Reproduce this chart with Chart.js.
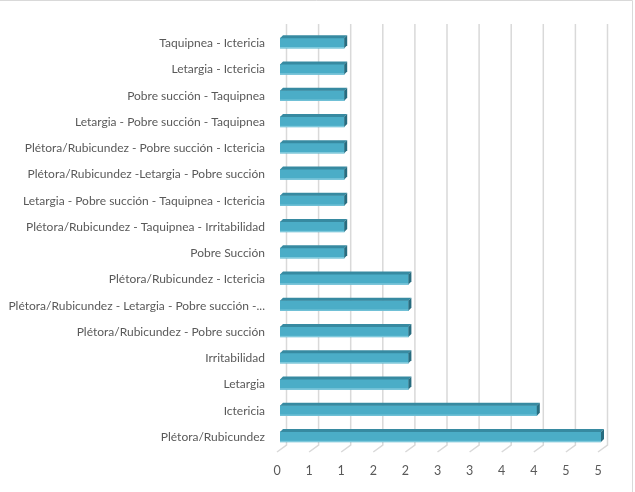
<!DOCTYPE html>
<html>
<head>
<meta charset="utf-8">
<script src="https://cdn.jsdelivr.net/npm/chart.js@4"></script>
<style>
    body { margin: 0; background: #fff; }
    #wrap { position: relative; width: 635px; height: 492px; }
</style>
</head>
<body>
<div id="wrap"><canvas id="grafico" width="635" height="492"></canvas></div>
<script>
// categorias en el orden de Excel (de abajo hacia arriba)
const sintomas = [
    'Plétora/Rubicundez',
    'Ictericia',
    'Letargia',
    'Irritabilidad',
    'Plétora/Rubicundez - Pobre succión',
    'Plétora/Rubicundez - Letargia - Pobre succión -...',
    'Plétora/Rubicundez - Ictericia',
    'Pobre Succión',
    'Plétora/Rubicundez - Taquipnea - Irritabilidad',
    'Letargia - Pobre succión - Taquipnea - Ictericia',
    'Plétora/Rubicundez -Letargia - Pobre succión',
    'Plétora/Rubicundez - Pobre succión - Ictericia',
    'Letargia - Pobre succión - Taquipnea',
    'Pobre succión - Taquipnea',
    'Letargia - Ictericia',
    'Taquipnea - Ictericia'
];
const casos = [5, 4, 2, 2, 2, 2, 2, 1, 1, 1, 1, 1, 1, 1, 1, 1];
const etiquetasEje = ['0', '1', '1', '2', '2', '3', '3', '4', '4', '5', '5'];

const PROF = 3; // profundidad de la barra en px

// paredes, lineas de fondo y piso en falso 3D
const fondo3D = {
    id: 'fondo3D',
    beforeDatasetsDraw(chart) {
        const ctx = chart.ctx;
        const x = chart.scales.x;
        const area = chart.chartArea;
        ctx.save();
        ctx.strokeStyle = '#d9d9d9';
        ctx.lineWidth = 1.5;
        x.ticks.forEach(t => {
            const px = x.getPixelForValue(t.value);
            ctx.beginPath();
            ctx.moveTo(px + 6.5, 24);
            ctx.lineTo(px + 6.5, area.bottom - 5);
            ctx.lineTo(px - 3, area.bottom + 2);
            ctx.stroke();
        });
        ctx.restore();
    },
    afterDatasetsDraw(chart) {
        const ctx = chart.ctx;
        const meta = chart.getDatasetMeta(0);
        ctx.save();
        meta.data.forEach(bar => {
            const top = bar.y - bar.height / 2;
            const bot = bar.y + bar.height / 2;
            const x0 = bar.base;
            const x1 = bar.x;
            // cara superior
            ctx.fillStyle = '#378aa1';
            ctx.beginPath();
            ctx.moveTo(x0, top);
            ctx.lineTo(x0 + PROF, top - PROF);
            ctx.lineTo(x1 + PROF, top - PROF);
            ctx.lineTo(x1, top);
            ctx.closePath();
            ctx.fill();
            // tapa derecha
            ctx.fillStyle = '#286c7f';
            ctx.beginPath();
            ctx.moveTo(x1, top);
            ctx.lineTo(x1 + PROF, top - PROF);
            ctx.lineTo(x1 + PROF, bot - PROF);
            ctx.lineTo(x1, bot);
            ctx.closePath();
            ctx.fill();
            // brillo inferior
            ctx.fillStyle = '#86cde0';
            ctx.fillRect(x0, bot - 1, x1 - x0, 1);
        });
        // borde del grafico
        ctx.strokeStyle = '#d9d9d9';
        ctx.lineWidth = 1;
        ctx.beginPath();
        ctx.moveTo(0, 0.5);
        ctx.lineTo(632.5, 0.5);
        ctx.lineTo(632.5, 492);
        ctx.stroke();
        ctx.restore();
    }
};

const ctx = document.getElementById('grafico');
new Chart(ctx, {
    type: 'bar',
    data: {
        labels: sintomas,
        datasets: [{
            data: casos,
            backgroundColor: '#4badc7',
            borderWidth: 0,
            barThickness: 10
        }]
    },
    options: {
        indexAxis: 'y',
        responsive: false,
        animation: false,
        events: [],
        layout: { padding: { top: 30, right: 34, left: 0, bottom: 0 } },
        plugins: {
            legend: { display: false },
            tooltip: { enabled: false }
        },
        scales: {
            x: {
                min: 0,
                max: 5,
                ticks: {
                    stepSize: 0.5,
                    padding: 13,
                    labelOffset: -3,
                    color: '#595959',
                    font: { family: 'Lato', size: 12.5 },
                    callback: (v, i) => etiquetasEje[i]
                },
                grid: { display: false, drawTicks: false },
                border: { display: false },
                afterFit: s => { s.height = 42; }
            },
            y: {
                reverse: true,
                ticks: {
                    padding: 15,
                    color: '#595959',
                    font: { family: 'Lato', size: 12 },
                    autoSkip: false
                },
                grid: { display: false, drawTicks: false },
                border: { display: false },
                afterFit: s => { s.width = 280; }
            }
        }
    },
    plugins: [fondo3D]
});
</script>
</body>
</html>
